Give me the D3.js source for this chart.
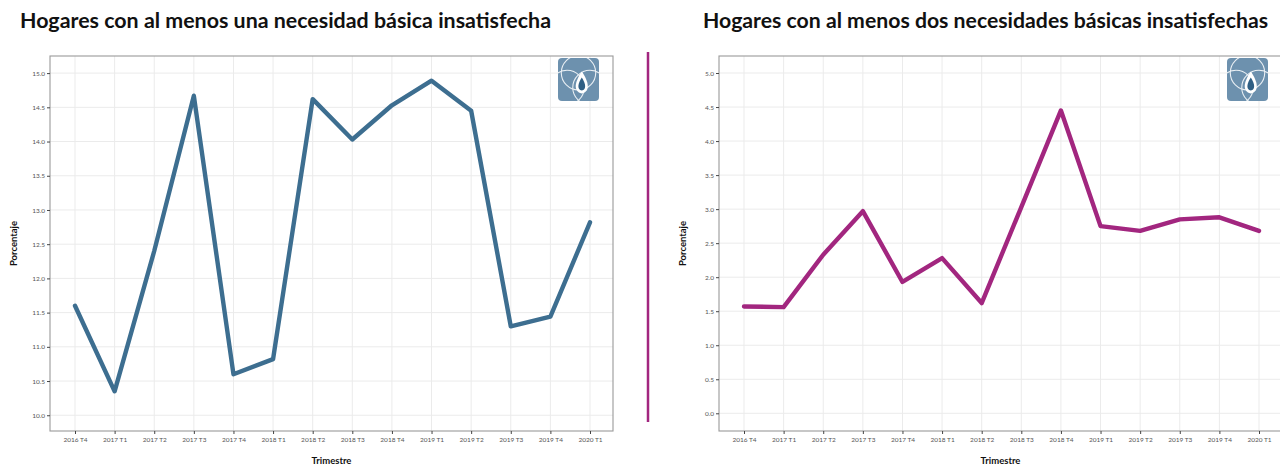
<!DOCTYPE html>
<html>
<head>
<meta charset="utf-8">
<script src="https://cdn.jsdelivr.net/npm/d3@7/dist/d3.min.js"></script>
<style>
  html, body { margin: 0; padding: 0; background: #ffffff; }
  svg { display: block; }
</style>
</head>
<body>
<svg id="chart" width="1280" height="465"></svg>
<script>
// Quarters shown on both panels
const quarters = ["2016 T4", "2017 T1", "2017 T2", "2017 T3", "2017 T4", "2018 T1", "2018 T2",
                  "2018 T3", "2018 T4", "2019 T1", "2019 T2", "2019 T3", "2019 T4", "2020 T1"];

// Share of households with at least one unmet basic need (%)
const atLeastOne = [11.60, 10.35, 12.40, 14.67, 10.60, 10.82, 14.62,
                    14.03, 14.53, 14.89, 14.45, 11.30, 11.44, 12.82];

// Share of households with at least two unmet basic needs (%)
const atLeastTwo = [1.57, 1.56, 2.33, 2.97, 1.93, 2.28, 1.62,
                    3.03, 4.45, 2.75, 2.68, 2.85, 2.88, 2.68];

const ticksOne = [10.0, 10.5, 11.0, 11.5, 12.0, 12.5, 13.0, 13.5, 14.0, 14.5, 15.0];
const ticksTwo = [0.0, 0.5, 1.0, 1.5, 2.0, 2.5, 3.0, 3.5, 4.0, 4.5, 5.0];

const titleOne = "Hogares con al menos una necesidad básica insatisfecha";
const titleTwo = "Hogares con al menos dos necesidades básicas insatisfechas";

const svg = d3.select("#chart");
const FONT = "Lato, 'Open Sans', 'DejaVu Sans', sans-serif";

function drawLogo(g, x, y) {
  const s = 41;
  const logo = g.append("g").attr("transform", `translate(${x},${y})`);
  const clipId = "clip" + Math.round(x);
  logo.append("clipPath").attr("id", clipId)
    .append("rect").attr("width", s).attr("height", s + 2).attr("rx", 4);
  const inner = logo.append("g").attr("clip-path", `url(#${clipId})`);
  inner.append("rect").attr("width", s).attr("height", s + 2).attr("fill", "#6d91ae");
  // overlapping rings
  [[s * 0.5, s * 0.36], [s * 0.22, s * 0.72], [s * 0.78, s * 0.72]].forEach(([cx, cy]) => {
    inner.append("circle").attr("cx", cx).attr("cy", cy).attr("r", s * 0.42)
      .attr("fill", "none").attr("stroke", "#e8eef3").attr("stroke-width", 1.1);
  });
  // flame
  const fx = s * 0.58, fy = s * 0.62;
  inner.append("path")
    .attr("d", `M${fx},${fy - 12} C${fx + 7},${fy - 2} ${fx + 9},${fy + 8} ${fx},${fy + 10} C${fx - 9},${fy + 8} ${fx - 7},${fy - 2} ${fx},${fy - 12} Z`)
    .attr("fill", "#ffffff");
  inner.append("path")
    .attr("d", `M${fx},${fy - 6} C${fx + 4},${fy} ${fx + 5},${fy + 6} ${fx},${fy + 7} C${fx - 5},${fy + 6} ${fx - 4},${fy} ${fx},${fy - 6} Z`)
    .attr("fill", "#2f5f84");
}

function drawPanel(cfg) {
  const { x0, x1, y0, y1, values, ticks, domain, color, title, titleX, titleW } = cfg;
  const g = svg.append("g");

  const x = d3.scalePoint().domain(quarters).range([x0 + 25, x1 - 23]);
  const y = d3.scaleLinear().domain(domain).range([y1, y0]);

  // clip for content that runs past the window
  g.append("defs").append("clipPath").attr("id", "pc" + x0)
    .append("rect").attr("x", x0).attr("y", y0).attr("width", x1 - x0).attr("height", y1 - y0);

  // grid
  g.append("g").selectAll("line").data(ticks).join("line")
    .attr("x1", x0).attr("x2", x1).attr("y1", d => y(d)).attr("y2", d => y(d))
    .attr("stroke", "#ebebeb").attr("stroke-width", 1);
  g.append("g").selectAll("line").data(quarters).join("line")
    .attr("x1", d => x(d)).attr("x2", d => x(d)).attr("y1", y0).attr("y2", y1)
    .attr("stroke", "#ebebeb").attr("stroke-width", 1);

  // logo in the top-right corner
  drawLogo(g, cfg.logoX, y0 + 2);

  // series line
  const line = d3.line().x((d, i) => x(quarters[i])).y(d => y(d));
  g.append("path").datum(values)
    .attr("d", line)
    .attr("fill", "none").attr("stroke", color).attr("stroke-width", 4.4)
    .attr("stroke-linejoin", "round").attr("stroke-linecap", "round")
    .attr("clip-path", `url(#pc${x0})`);

  // panel border
  g.append("rect").attr("x", x0).attr("y", y0).attr("width", x1 - x0).attr("height", y1 - y0)
    .attr("fill", "none").attr("stroke", "#9a9a9a").attr("stroke-width", 1.1);

  // y axis
  const ya = g.append("g").attr("transform", `translate(${x0},0)`)
    .call(d3.axisLeft(y).tickValues(ticks).tickFormat(d3.format(".1f")).tickSize(3).tickPadding(2));
  ya.select(".domain").remove();
  ya.selectAll(".tick line").attr("stroke", "#444");
  ya.selectAll(".tick text").attr("fill", "#555").attr("font-size", 6.5).attr("font-family", FONT);

  // x axis
  const xa = g.append("g").attr("transform", `translate(0,${y1})`)
    .call(d3.axisBottom(x).tickSize(3).tickPadding(3));
  xa.select(".domain").remove();
  xa.selectAll(".tick line").attr("stroke", "#444");
  xa.selectAll(".tick text").attr("fill", "#555").attr("font-size", 6.5).attr("font-family", FONT);

  // axis titles
  g.append("text").attr("transform", `translate(${cfg.yLabelX},${(y0 + y1) / 2}) rotate(-90)`)
    .attr("text-anchor", "middle").attr("dominant-baseline", "middle")
    .attr("font-family", FONT).attr("font-weight", "bold").attr("font-size", 9.5).attr("fill", "#111")
    .text("Porcentaje");
  g.append("text").attr("x", (x0 + Math.min(x1, 1282)) / 2).attr("y", 464)
    .attr("text-anchor", "middle")
    .attr("font-family", FONT).attr("font-weight", "bold").attr("font-size", 9.5).attr("fill", "#111")
    .text("Trimestre");

  // panel title, compressed to its column width
  g.append("text").attr("x", titleX).attr("y", 28)
    .attr("font-family", FONT).attr("font-weight", "bold").attr("font-size", 21).attr("fill", "#111")
    .attr("textLength", titleW).attr("lengthAdjust", "spacingAndGlyphs")
    .text(title);
}

drawPanel({
  x0: 50, x1: 613, y0: 56, y1: 431,
  values: atLeastOne, ticks: ticksOne, domain: [9.77, 15.25],
  color: "#3d6e90", title: titleOne, titleX: 20, titleW: 531,
  logoX: 558, yLabelX: 15
});

drawPanel({
  x0: 719, x1: 1282, y0: 56, y1: 431,
  values: atLeastTwo, ticks: ticksTwo, domain: [-0.26, 5.25],
  color: "#a2267f", title: titleTwo, titleX: 703, titleW: 565,
  logoX: 1227, yLabelX: 684
});

// divider between the two panels
svg.append("line").attr("x1", 648).attr("x2", 648).attr("y1", 52).attr("y2", 422)
  .attr("stroke", "#a2267f").attr("stroke-width", 2.5);
</script>
</body>
</html>
